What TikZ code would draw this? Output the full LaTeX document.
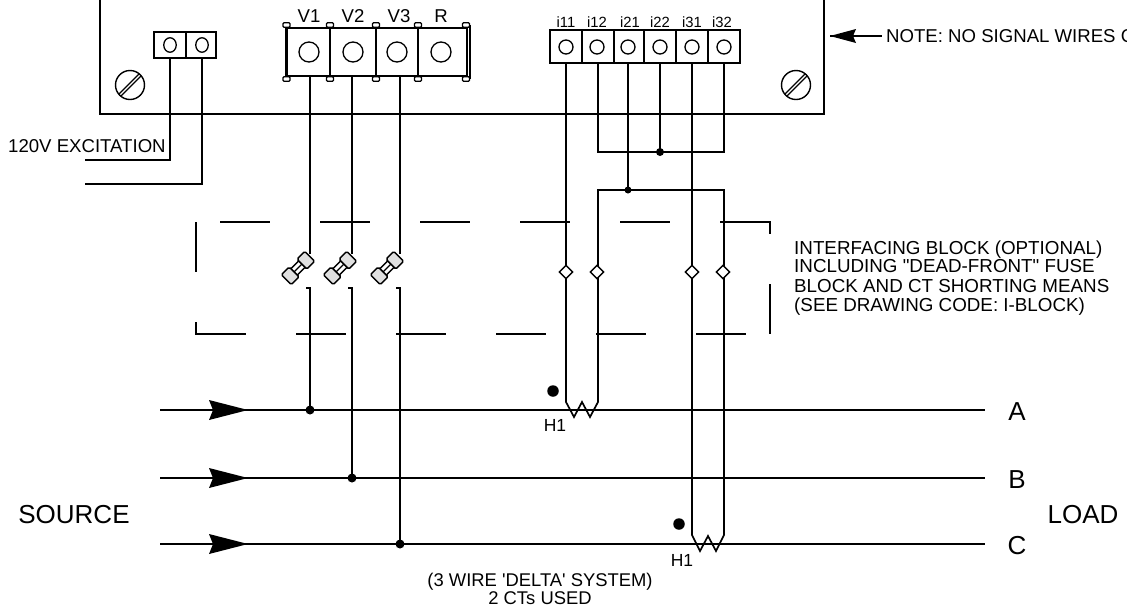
\documentclass[tikz,border=0pt]{standalone}
\usetikzlibrary{shapes.geometric}
\usepackage{fontspec}
\setmainfont{Liberation Sans}
\newfontfamily\rawfont{Liberation Sans}
\definecolor{capgrey}{gray}{0.88}
\tikzset{
  wire/.style={line width=1.7pt,line join=miter},
  term/.style={circle,draw,line width=1.3pt,inner sep=0pt,minimum size=#1},
  dot/.style={circle,fill=black,inner sep=0pt,minimum size=#1},
  diam/.style={diamond,draw,fill=white,line width=1.4pt,inner sep=0pt,minimum size=14pt},
  lab/.style={inner sep=0pt,font=\fontsize{#1}{19}\selectfont},
  lab/.default=18.6,
  tab/.style={draw,fill=white,line width=1.2pt,rounded corners=1pt,minimum width=7pt,minimum height=4.5pt,inner sep=0pt},
  fusecap/.style={draw,fill=capgrey,line width=1.5pt,rounded corners=1.5pt,minimum width=11pt,minimum height=14pt,inner sep=0pt,transform shape},
  fusemid/.style={draw,fill=white,line width=1.3pt,minimum width=13pt,minimum height=9pt,inner sep=0pt,transform shape},
  screw/.style={circle,draw,line width=1.4pt,inner sep=0pt,minimum size=29pt},
  oterm/.style={ellipse,draw,line width=1.3pt,inner sep=0pt,minimum width=12.5pt,minimum height=14.5pt}
}
\newcommand{\fusesym}[2]{%
  \begin{scope}[shift={(#1)},rotate=#2]
    \node[fusemid] at (0,0) {};
    \draw[line width=1.1pt] (-6,0) -- (6,0);
    \node[fusecap] at (-11,0) {};
    \node[fusecap] at (11,0) {};
  \end{scope}}
\newcommand{\screwsym}[1]{%
  \begin{scope}[shift={(#1)}]
    \node[screw] at (0,0) {};
    \draw[line width=1.1pt] (-11,9) -- (9,-11);
    \draw[line width=1.1pt] (-9,11) -- (11,-9);
  \end{scope}}
\newcommand{\bigarrow}[2]{%
  \fill (#1-39,#2-10) -- (#1,#2) -- (#1-39,#2+10) -- (#1-35,#2) -- cycle;}
\begin{document}
\begin{tikzpicture}[x=1pt,y=-1pt]
\useasboundingbox (0,0) rectangle (1127,614);
\clip (0,0) rectangle (1127,614);
% enclosure
\coordinate (encTL) at (100,0);
\coordinate (encBL) at (100,114);
\coordinate (encBR) at (824,114);
\coordinate (encTR) at (824,0);
\draw[wire] (encTL) -- (encBL) -- (encBR) -- (encTR);
\screwsym{130,85}
\screwsym{796,85}
% excitation block
\draw[wire] (154,32) rectangle (216,58);
\draw[wire] (186,32) -- (186,58);
\node[oterm] (e1) at (170,45) {};
\node[oterm] (e2) at (202,45) {};
\coordinate (e1b) at (170,58);
\coordinate (e2b) at (202,58);
\coordinate (e1c) at (170,160);
\coordinate (e2c) at (202,184);
\coordinate (e1e) at (85,160);
\coordinate (e2e) at (85,184);
\draw[wire] (e1b) -- (e1c) -- (e1e);
\draw[wire] (e2b) -- (e2c) -- (e2e);
\node[lab,anchor=base west] (exc) at (8,152) {120V EXCITATION};
% voltage block
\draw[wire] (286,28) rectangle (467,76);
\draw[line width=3pt] (286.5,28) -- (286.5,76);
\foreach \x in {330,376,418} \draw[wire] (\x,28) -- (\x,76);
\draw[line width=1.2pt] (470,25) -- (470,79);
\foreach \x in {286.5,330,376,418,466}{
  \node[tab] at (\x,25) {};
  \node[tab] at (\x,79) {};
}
\node[term=20pt] (tv1) at (309,52) {};
\node[term=20pt] (tv2) at (353,52) {};
\node[term=20pt] (tv3) at (397,52) {};
\node[term=20pt] (tr) at (441,52) {};
\node[lab,anchor=base] at (309,22) {V1};
\node[lab,anchor=base] at (353,22) {V2};
\node[lab,anchor=base] at (399,22) {V3};
\node[lab,anchor=base] at (441,22) {R};
% current block
\draw[wire] (550,30) rectangle (740,63);
\foreach \x in {582,614,644,676,708} \draw[wire] (\x,30) -- (\x,63);
\foreach \n/\x/\t/\lx in {c1/566/i11/566,c2/597/i12/597,c3/628/i21/630,c4/660/i22/660,c5/692/i31/692,c6/724/i32/722}{
  \node[term=14pt] (\n) at (\x,47) {};
  \node[lab=14.8,anchor=base] at (\lx,27) {\t};
}
% dashed enclosure
\foreach \a in {220,320,420,520,620} \draw[wire] (\a,222) -- (\a+50,222);
\draw[wire] (720,222) -- (770,222) -- (770,234);
\draw[wire] (196,222) -- (196,272);
\draw[wire] (196,322) -- (196,334) -- (246,334);
\foreach \a in {296,396,496,596,696} \draw[wire] (\a,334) -- (\a+50,334);
\draw[wire] (770,284) -- (770,334);
% phase lines
\coordinate (As) at (160,410); \coordinate (Ae) at (985,410);
\coordinate (Bs) at (160,478); \coordinate (Be) at (985,478);
\coordinate (Cs) at (160,544); \coordinate (Ce) at (985,544);
\draw[wire] (As) -- (Ae);
\draw[wire] (Bs) -- (Be);
\draw[wire] (Cs) -- (Ce);
\bigarrow{248}{410}
\bigarrow{248}{478}
\bigarrow{248}{544}
\node[lab=26,anchor=base] at (1017,420) {A};
\node[lab=26,anchor=base] at (1017,488) {B};
\node[lab=26,anchor=base] at (1017,554) {C};
% voltage wires with fuses
\node[dot=9pt] (da) at (310,410) {};
\node[dot=9pt] (db) at (352,478) {};
\node[dot=9pt] (dc) at (400,544) {};
\foreach \n/\x/\d in {1/310/da,2/352/db,3/400/dc}{
  \coordinate (vb\n) at (\x,76);
  \coordinate (vf\n) at (\x,254);
  \coordinate (vt\n) at (\x-4,288);
  \coordinate (vk\n) at (\x,288);
  \draw[wire] (vb\n) -- (vf\n);
  \draw[wire] (vt\n) -- (vk\n) -- (\d.center);
}
\fusesym{298,268}{45}
\fusesym{340,268}{45}
\fusesym{387,268}{45}
% current wires
\node[dot=8pt] (j1) at (660,152) {};
\node[dot=7pt] (j2) at (628,190) {};
\coordinate (b1) at (566,63); \coordinate (b2) at (598,63);
\coordinate (b3) at (628,63); \coordinate (b4) at (660,63);
\coordinate (b5) at (692,63); \coordinate (b6) at (724,63);
\coordinate (s1) at (598,152); \coordinate (s2) at (724,152);
\coordinate (r1) at (598,190); \coordinate (r2) at (724,190);
\draw[wire] (b2) -- (s1) -- (s2) -- (b6);
\draw[wire] (b4) -- (j1.center);
\draw[wire] (b3) -- (j2.center);
% CT windings
\draw[wire] (b1) -- (566,402) -- (574,417) -- (582,402) -- (590,417) -- (598,402) -- (r1) -- (r2) -- (724,535) -- (716,551) -- (708,536) -- (700,551) -- (692,535) -- (b5);
\node[diam] at (566,272) {};
\node[diam] at (597,272) {};
\node[diam] at (692,272) {};
\node[diam] at (723,272) {};
\node[dot=11.5pt] (h1a) at (553,391) {};
\node[dot=11.5pt] (h1c) at (679,524) {};
\node[lab=17.5,anchor=base] at (555,431) {H1};
\node[lab=17.5,anchor=base] at (682,566) {H1};
% note
\coordinate (ntip) at (830,36);
\coordinate (nend) at (882,36);
\draw[wire] (ntip) -- (nend);
\fill (830,36) -- (856,29) -- (853,36) -- (856,43) -- cycle;
\node[lab,anchor=base west] at (886,42) {NOTE: NO SIGNAL WIRES C};
% side notes
\node[lab=18.8,anchor=base west] at (794,254) {INTERFACING BLOCK (OPTIONAL)};
\node[lab=18.8,anchor=base west] at (794,272) {\rawfont INCLUDING "DEAD-FRONT" FUSE};
\node[lab=18.8,anchor=base west] at (794,292) {BLOCK AND CT SHORTING MEANS};
\node[lab=18.8,anchor=base west] at (794,311) {(SEE DRAWING CODE: I-BLOCK)};
\node[lab=26,anchor=base] at (74,523) {SOURCE};
\node[lab=26,anchor=base] at (1083,523) {LOAD};
\node[lab=18.4,anchor=base] at (540,586) {\rawfont (3 WIRE 'DELTA' SYSTEM)};
\node[lab=18.4,anchor=base] at (540,604) {2 CTs USED};
\end{tikzpicture}
\end{document}
